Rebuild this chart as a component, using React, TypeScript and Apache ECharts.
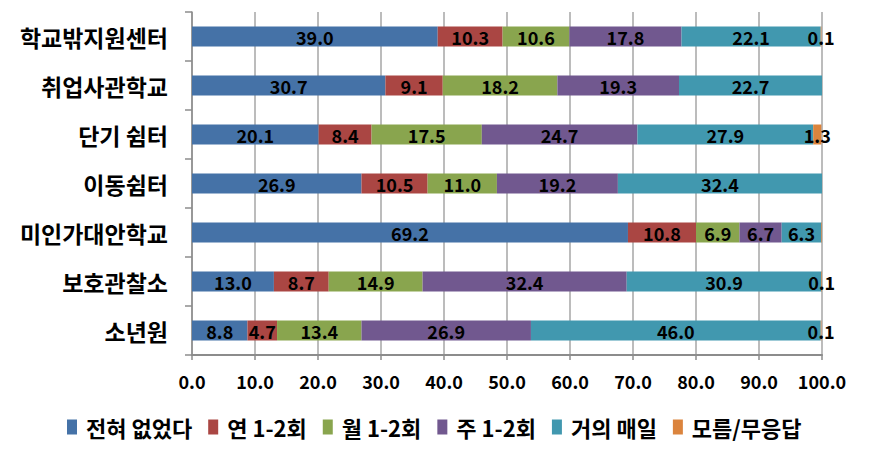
import React, { useEffect, useRef } from "react";
import * as echarts from "echarts";

const categories = ["학교밖지원센터", "취업사관학교", "단기 쉼터", "이동쉼터", "미인가대안학교", "보호관찰소", "소년원"];
const seriesNames = ["전혀 없었다", "연 1-2회", "월 1-2회", "주 1-2회", "거의 매일", "모름/무응답"];
const never = [39.0, 30.7, 20.1, 26.9, 69.2, 13.0, 8.8];
const yearly = [10.3, 9.1, 8.4, 10.5, 10.8, 8.7, 4.7];
const monthly = [10.6, 18.2, 17.5, 11.0, 6.9, 14.9, 13.4];
const weekly = [17.8, 19.3, 24.7, 19.2, 6.7, 32.4, 26.9];
const daily = [22.1, 22.7, 27.9, 32.4, 6.3, 30.9, 46.0];
const unknown: (number | null)[] = [0.1, null, 1.3, null, 0.1, 0.1, 0.1];
const unknownLabelShown = [true, false, true, false, false, true, true];
const xTicks = [0, 10, 20, 30, 40, 50, 60, 70, 80, 90, 100];
const colors = ["#4572A7", "#AA4643", "#89A54E", "#71588F", "#4198AF", "#DB843D"];

const FONT = "'Noto Sans CJK KR', 'Noto Sans', sans-serif";

export default function App() {
  const ref = useRef<HTMLDivElement>(null);
  useEffect(() => {
    document.body.style.margin = "0";
    if (!ref.current) return;
    const chart = echarts.init(ref.current, null, { renderer: "svg" });
    const label = {
      show: true,
      position: "inside",
      color: "#000",
      fontFamily: FONT,
      fontWeight: "bold",
      fontSize: 18,
      formatter: (p: any) => (p.value == null ? "" : Number(p.value).toFixed(1)),
    };
    const allData = [never, yearly, monthly, weekly, daily];
    const series: any[] = allData.map((d, i) => ({
      name: seriesNames[i],
      type: "bar",
      stack: "total",
      barWidth: 20,
      data: d,
      label,
      itemStyle: { color: colors[i] },
    }));
    series.push({
      name: seriesNames[5],
      type: "bar",
      stack: "total",
      barWidth: 20,
      data: unknown.map((v, i) => (v == null ? null : { value: v, label: { show: unknownLabelShown[i] } })),
      label,
      itemStyle: { color: colors[5] },
    });
    chart.setOption({
      animation: false,
      grid: { left: 192, right: 52, top: 12, bottom: 111 },
      legend: {
        top: 411,
        left: 62,
        itemWidth: 10,
        itemHeight: 15,
        itemGap: 16,
        icon: "rect",
        textStyle: { fontFamily: FONT, fontWeight: "bold", fontSize: 22, color: "#000", padding: [0, 0, 0, 4] },
        data: seriesNames,
      },
      xAxis: {
        type: "value",
        min: xTicks[0],
        max: xTicks[xTicks.length - 1],
        interval: 10,
        axisLine: { show: true, lineStyle: { color: "#8c8c8c", width: 2 } },
        axisTick: { show: true, length: 5, lineStyle: { color: "#8c8c8c", width: 1.5 } },
        splitLine: { show: true, lineStyle: { color: "#a6a6a6", width: 1.5 } },
        axisLabel: {
          margin: 17,
          color: "#000",
          fontFamily: FONT,
          fontWeight: "bold",
          fontSize: 18,
          formatter: (v: number) => v.toFixed(1),
        },
      },
      yAxis: {
        type: "category",
        inverse: true,
        data: categories,
        axisLine: { show: true, lineStyle: { color: "#8c8c8c", width: 1.5 } },
        axisTick: { show: true, length: 7, lineStyle: { color: "#8c8c8c", width: 1.5 } },
        axisLabel: {
          margin: 24,
          color: "#000",
          fontFamily: FONT,
          fontWeight: "bold",
          fontSize: 23,
        },
      },
      series,
    });
    return () => chart.dispose();
  }, []);
  return <div ref={ref} style={{ width: 874, height: 466 }} />;
}
